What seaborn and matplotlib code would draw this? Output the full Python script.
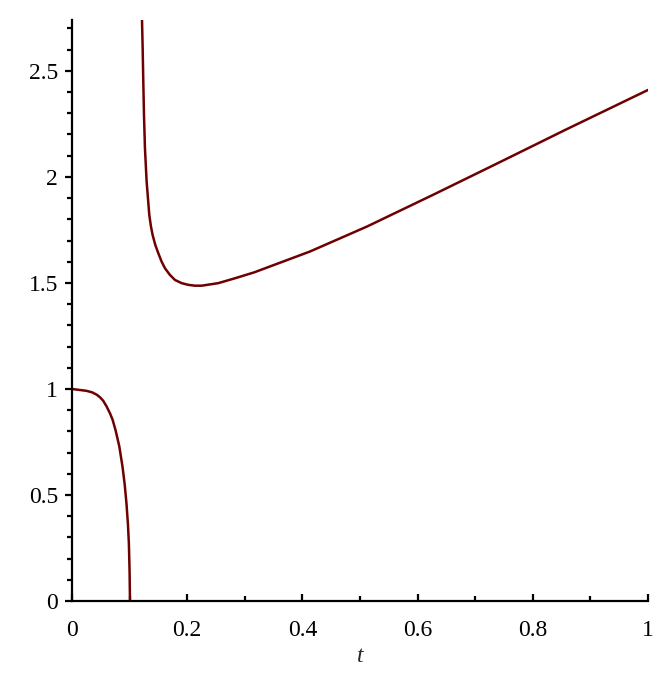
import matplotlib
matplotlib.use("Agg")
import matplotlib.pyplot as plt
import seaborn as sns
import pandas as pd
from matplotlib.ticker import MultipleLocator, FuncFormatter

# values
t_lower = [0.0, 0.0255, 0.035, 0.0429, 0.0486, 0.0543, 0.060, 0.066, 0.0705, 0.0757,
           0.0821, 0.0877, 0.0915, 0.0946, 0.0972, 0.0988, 0.1, 0.1007]
y_lower = [1.0, 0.991, 0.984, 0.973, 0.961, 0.944, 0.918, 0.885, 0.855, 0.805,
           0.730, 0.634, 0.55, 0.46, 0.36, 0.27, 0.14, 0.0]

t_upper = [0.1215, 0.1227, 0.1238, 0.125, 0.1267, 0.1296, 0.1342, 0.137, 0.14, 0.1448,
           0.1499, 0.1555, 0.1615, 0.170, 0.1788, 0.1904, 0.2019, 0.2135, 0.2252, 0.254,
           0.283, 0.3165, 0.413, 0.5122, 0.628, 0.7431, 0.8589, 1.0]
y_upper = [2.748, 2.607, 2.450, 2.292, 2.135, 1.978, 1.821, 1.768, 1.726, 1.678,
           1.640, 1.601, 1.569, 1.538, 1.514, 1.499, 1.491, 1.487, 1.487, 1.499,
           1.522, 1.550, 1.648, 1.766, 1.917, 2.070, 2.225, 2.41]

sns.set_style("ticks")
plt.rcParams['font.family'] = ['Liberation Serif', 'DejaVu Serif']

lower = pd.DataFrame({"t": t_lower, "y": y_lower})
upper = pd.DataFrame({"t": t_upper, "y": y_upper})

fig = plt.figure(figsize=(6.64, 6.75), dpi=100)
ax = fig.add_axes([0.1084, 0.1096, 0.8675, 0.8608])

curve_color = "#6e0000"
for df in (lower, upper):
    sns.lineplot(data=df, x="t", y="y", ax=ax, color=curve_color, lw=1.8,
                 sort=False, estimator=None, solid_joinstyle="round")

ax.set_xlim(0, 1)
ax.set_ylim(0, 2.74)
sns.despine(ax=ax)
for side in ["left", "bottom"]:
    ax.spines[side].set_linewidth(1.6)
    ax.spines[side].set_color("black")

ax.xaxis.set_major_locator(MultipleLocator(0.2))
ax.xaxis.set_minor_locator(MultipleLocator(0.1))
ax.yaxis.set_major_locator(MultipleLocator(0.5))
ax.yaxis.set_minor_locator(MultipleLocator(0.1))
fmt = FuncFormatter(lambda v, p: "%g" % round(v, 2))
ax.xaxis.set_major_formatter(fmt)
ax.yaxis.set_major_formatter(fmt)

ax.tick_params(axis="x", which="both", direction="in", labelsize=17, pad=14, colors="black")
ax.tick_params(axis="y", which="both", direction="out", labelsize=17, pad=5, colors="black")
ax.tick_params(which="major", length=5, width=1.6)
ax.tick_params(which="minor", length=3.5, width=1.6)

ax.set_xlabel("t", fontsize=17, style="italic", labelpad=3)
ax.set_ylabel("")

fig.savefig("out.png", dpi=100)
